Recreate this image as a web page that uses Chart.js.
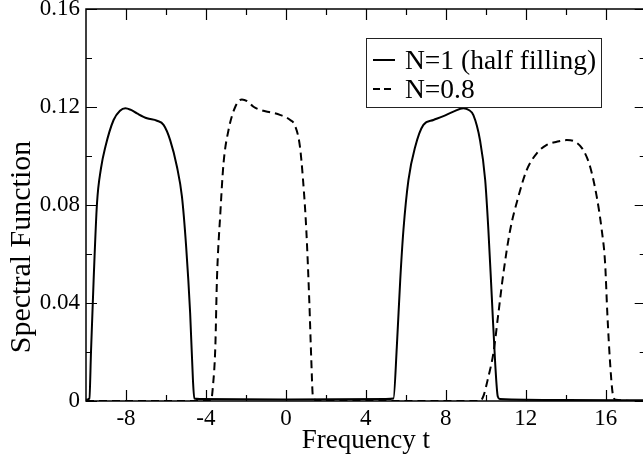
<!DOCTYPE html>
<html><head><meta charset="utf-8">
<script src="https://cdn.jsdelivr.net/npm/chart.js@4/dist/chart.umd.min.js"></script>
<style>
html,body{margin:0;padding:0;background:#fff;overflow:hidden}
#wrap{width:643px;height:459px;overflow:hidden;position:relative;background:#fff}
canvas{display:block}
</style></head>
<body><div id="wrap"><canvas id="c" width="648" height="459" style="width:648px;height:459px"></canvas></div>
<script>
const seriesLabels = ["N=1 (half filling)", "N=0.8"];
const halfX = [-10, -9.83, -9.75, -9.62, -9.45, -9.25, -9.03, -8.62, -8.3, -8.03, -7.75, -7.45, -6.95, -6.45, -6.12, -5.79, -5.45, -5.2, -4.99, -4.79, -4.65, -4.58, -4.3, 0, 5.0, 5.38, 5.55, 5.72, 5.88, 6.13, 6.47, 6.88, 7.38, 7.88, 8.38, 8.88, 9.15, 9.38, 9.71, 9.97, 10.13, 10.3, 10.47, 10.6, 10.7, 14, 18];
const halfY = [0.0005, 0.001, 0.02, 0.049, 0.0807, 0.095, 0.1038, 0.1147, 0.1185, 0.1195, 0.1188, 0.1174, 0.1154, 0.1144, 0.1127, 0.1065, 0.0956, 0.0834, 0.063, 0.0359, 0.0086, 0.001, 0.0008, 0.0006, 0.0008, 0.001, 0.0222, 0.0494, 0.0698, 0.0902, 0.1038, 0.1127, 0.1147, 0.1163, 0.1181, 0.1195, 0.1188, 0.1167, 0.1065, 0.0902, 0.0698, 0.0426, 0.0154, 0.0018, 0.0008, 0.0004, 0.0003];
const dopedX = [-10, -3.75, -3.65, -3.53, -3.45, -3.28, -3.12, -2.87, -2.53, -2.2, -1.9, -1.62, -1.2, -0.75, -0.3, 0.2, 0.45, 0.7, 0.86, 1.02, 1.17, 1.27, 1.35, 1.6, 9.7, 9.88, 10.13, 10.38, 10.63, 10.88, 11.22, 11.63, 12.05, 12.55, 13.05, 13.55, 14.05, 14.47, 14.88, 15.22, 15.55, 15.8, 15.97, 16.08, 16.22, 16.35, 16.5, 18];
const dopedY = [0, 0, 0.006, 0.0222, 0.0494, 0.0766, 0.097, 0.1106, 0.1201, 0.1231, 0.1222, 0.1201, 0.1186, 0.1178, 0.1168, 0.1148, 0.1125, 0.104, 0.09, 0.07, 0.041, 0.017, 0.002, 0, 0, 0.002, 0.0099, 0.0195, 0.0358, 0.0521, 0.0698, 0.0834, 0.0943, 0.1011, 0.1045, 0.1058, 0.1065, 0.1058, 0.1024, 0.0956, 0.0834, 0.0698, 0.0562, 0.0358, 0.0154, 0.003, 0.0005, 0];
const xMajorTicks = [-8, -4, 0, 4, 8, 12, 16];
const xMinorTicks = [-6, -2, 2, 6, 10, 14];
const yMajorTicks = [0, 0.04, 0.08, 0.12, 0.16];
const yMinorTicks = [0.02, 0.06, 0.10, 0.14];
const xTitle = "Frequency t";
const yTitle = "Spectral Function";

const FONT = "'Liberation Serif', 'Times New Roman', serif";

const decor = {
  id: 'decor',
  afterDraw(chart) {
    const ctx = chart.ctx, ca = chart.chartArea;
    const xs = chart.scales.x, ys = chart.scales.y;
    ctx.save();
    ctx.strokeStyle = '#000';
    ctx.lineWidth = 1.5;
    ctx.setLineDash([]);
    ctx.strokeRect(ca.left, ca.top, ca.right - ca.left, ca.bottom - ca.top);
    const tick = (vals, len, axis) => {
      vals.forEach(v => {
        ctx.beginPath();
        if (axis === 'x') {
          const p = Math.round(xs.getPixelForValue(v)) + 0.5;
          ctx.moveTo(p, ca.bottom); ctx.lineTo(p, ca.bottom - len);
          ctx.moveTo(p, ca.top); ctx.lineTo(p, ca.top + len);
        } else {
          const p = Math.round(ys.getPixelForValue(v)) + 0.5;
          ctx.moveTo(ca.left, p); ctx.lineTo(ca.left + len, p);
          ctx.moveTo(ca.right, p); ctx.lineTo(ca.right - len, p);
        }
        ctx.stroke();
      });
    };
    ctx.lineWidth = 1.2;
    tick(xMajorTicks, 11, 'x'); tick(xMinorTicks, 6, 'x');
    tick(yMajorTicks, 11, 'y'); tick(yMinorTicks, 6, 'y');

    // y title
    ctx.fillStyle = '#000';
    ctx.font = "30px " + FONT;
    ctx.save();
    ctx.translate(22, 247);
    ctx.rotate(-Math.PI / 2);
    ctx.textAlign = 'center';
    ctx.textBaseline = 'middle';
    ctx.fillText(yTitle, 0, 0);
    ctx.restore();

    // legend
    ctx.fillStyle = '#fff';
    ctx.fillRect(366, 38, 235, 69);
    ctx.strokeStyle = '#222';
    ctx.lineWidth = 1;
    ctx.strokeRect(366.5, 38.5, 235, 69);
    const rows = [69, 98];
    chart.data.datasets.forEach((ds, i) => {
      const by = rows[i];
      ctx.strokeStyle = '#000';
      ctx.lineWidth = 2;
      ctx.setLineDash(i === 0 ? [] : [7, 4]);
      ctx.beginPath();
      ctx.moveTo(373, by - 9); ctx.lineTo(395, by - 9);
      ctx.stroke();
      ctx.setLineDash([]);
      ctx.fillStyle = '#000';
      ctx.font = "27.5px " + FONT;
      ctx.textAlign = 'left';
      ctx.textBaseline = 'alphabetic';
      ctx.fillText(ds.label, 405, by);
    });
    ctx.restore();
  }
};

new Chart(document.getElementById('c'), {
  type: 'line',
  data: {
    datasets: [
      { label: seriesLabels[0], data: halfX.map((x, i) => ({ x, y: halfY[i] })),
        borderColor: '#000', borderWidth: 2, pointRadius: 0, fill: false, cubicInterpolationMode: 'monotone' },
      { label: seriesLabels[1], data: dopedX.map((x, i) => ({ x, y: dopedY[i] })),
        borderColor: '#000', borderWidth: 2, borderDash: [8, 5], pointRadius: 0, fill: false, cubicInterpolationMode: 'monotone' }
    ]
  },
  options: {
    responsive: false,
    animation: false,
    devicePixelRatio: 1,
    layout: { padding: { top: 9, right: 2.3, left: 0, bottom: 0 } },
    plugins: { legend: { display: false }, tooltip: { enabled: false } },
    scales: {
      x: {
        type: 'linear', min: -10, max: 18,
        afterBuildTicks: s => { s.ticks = xMajorTicks.map(v => ({ value: v })); },
        afterFit: s => { s.height = 58; s.paddingLeft = 0; s.paddingRight = 0; },
        grid: { display: false, drawTicks: false },
        border: { display: false },
        ticks: { color: '#000', font: { family: FONT, size: 23 }, padding: 4, maxRotation: 0, autoSkip: false,
                 callback: v => String(v) },
        title: { display: true, text: xTitle, color: '#000', font: { family: FONT, size: 27 }, padding: { top: 0, bottom: 2 } }
      },
      y: {
        type: 'linear', min: 0, max: 0.16,
        afterBuildTicks: s => { s.ticks = yMajorTicks.map(v => ({ value: v })); },
        afterFit: s => { s.width = 86; s.paddingTop = 0; s.paddingBottom = 0; },
        grid: { display: false, drawTicks: false },
        border: { display: false },
        ticks: { color: '#000', font: { family: FONT, size: 23 }, padding: 6, autoSkip: false,
                 callback: v => (v === 0 ? '0' : v.toFixed(2)) }
      }
    }
  },
  plugins: [decor]
});
</script>
</body></html>
